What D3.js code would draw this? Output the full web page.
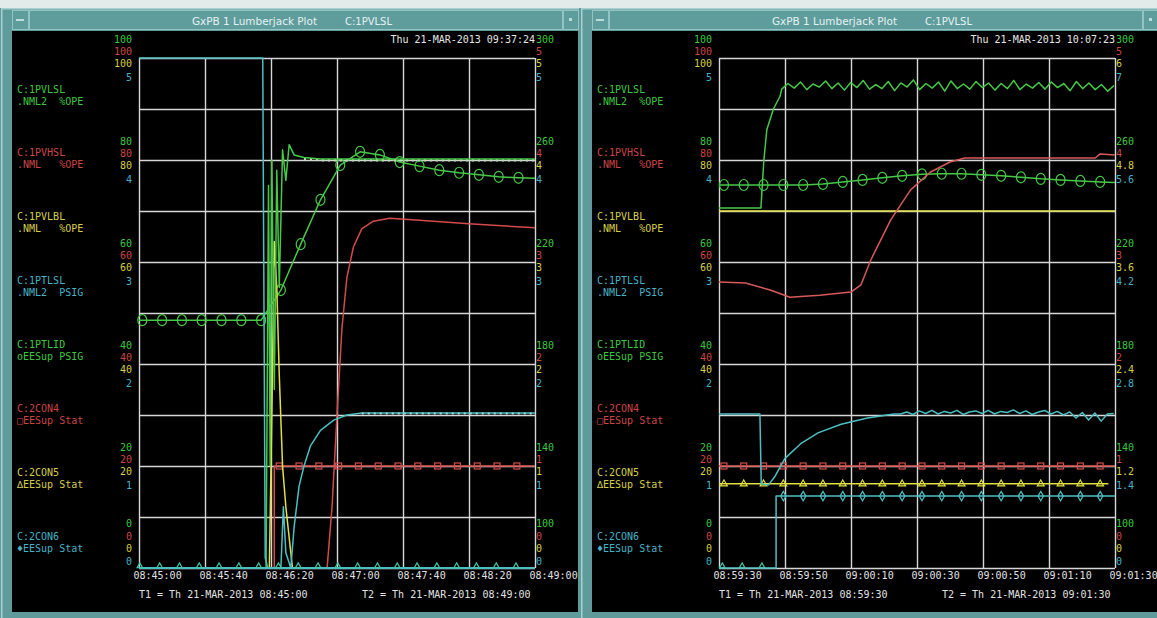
<!DOCTYPE html>
<html>
<head>
<meta charset="utf-8">
<script src="https://cdn.jsdelivr.net/npm/d3@7"></script>
<style>
body { margin: 0; background: #e3eaea; overflow: hidden; }
</style>
</head>
<body>
<svg id="vis" width="1157" height="618"></svg>
<script>
// ---------- data (values in % of span, time in seconds from T1) ----------
var leftTimes = ["08:45:00", "08:45:40", "08:46:20", "08:47:00", "08:47:40", "08:48:20", "08:49:00"];
var rightTimes = ["08:59:30", "08:59:50", "09:00:10", "09:00:30", "09:00:50", "09:01:10", "09:01:30"];

var varNames = ["C:1PVLSL", "C:1PVHSL", "C:1PVLBL", "C:1PTLSL", "C:1PTLID", "C:2CON4", "C:2CON5", "C:2CON6"];
var varUnits = [".NML2  %OPE", ".NML   %OPE", ".NML   %OPE", ".NML2  PSIG", "oEESup PSIG", "\u25a1EESup Stat", "\u2206EESup Stat", "\u2666EESup Stat"];

var ticksPct = ["0", "20", "40", "60", "80", "100"];
var ticksFive = ["0", "1", "2", "3", "4", "5"];
var ticksGreenR = ["100", "140", "180", "220", "260", "300"];
var ticksYellowR2 = ["0", "1.2", "2.4", "3.6", "4.8", "6"];
var ticksCyanR2 = ["0", "1.4", "2.8", "4.2", "5.6", "7"];
var gridPct = [0, 10, 20, 30, 40, 50, 60, 70, 80, 90, 100];

// left plot, 08:45:00 - 08:49:00
var lGreen = [[0,0],[77,0],[78.5,75],[79.5,20],[80.5,80],[82,35],[83.5,78],[85,55],[87,82],[89,76],[91,83],[94,81],[100,80.5],[110,80.2],[240,80.2]];
var lGreenCirc = [[0,48.6],[74,48.6],[86,54.5],[98,63.5],[110,72.2],[122,79],[134,81.6],[146,81],[158,79.6],[170,78.8],[182,78],[194,77.5],[206,77.1],[218,76.7],[230,76.5],[240,76.4]];
var lCircTimes = [2,14,26,38,50,62,74,86,98,110,122,134,146,158,170,182,194,206,218,230];
var lRed = [[0,0],[114,0],[117,12],[120,30],[123,47],[126,57],[130,63],[135,66.5],[142,68],[152,68.6],[170,68.2],[200,67.5],[240,66.7]];
var lRedSq = [[0,0],[82,0],[82,20],[240,20]];
var lSqTimes = [85,97,109,121,133,145,157,169,181,193,205,217,229];
var lYellow = [[0,0],[79,0],[80.5,30],[82,64],[83.5,55],[85,38],[87,20],[89,12],[91,6],[93,0],[240,0]];
var lCyan = [[0,100],[75,100],[76.5,2],[78,0],[86,0],[87.5,12],[89,3],[92,0],[94,8],[97,16],[100,20],[104,24],[110,27],[118,29],[126,30],[135,30.4],[240,30.4]];
var lCyanBase = [[0,0],[240,0]];
var lTriTimes = [0.5,12.5,24.5,36.5,48.5,60.5,72.5,84.5,96.5,108.5,120.5,132.5,144.5,156.5,168.5,180.5,192.5,204.5,216.5,228.5];

// right plot, 08:59:30 - 09:01:30
var rGreenHead = [[0,70.6],[12.7,70.6],[13.6,80],[14.5,86],[16.5,90],[18.5,92.5]];
var rGreenWiggle = [93.9,95.0,94.1,95.3,93.8,94.9,94.3,95.5,94.0,95.1,93.7,95.2,94.2,95.6,93.9,94.8,94.0,95.4,93.6,95.1,94.3,95.7,93.8,95.0,94.1,95.3,93.5,95.5,94.0,94.9,93.9,95.4,94.2,95.1,93.7,95.0,94.0,95.6,93.8,94.9,94.1,95.2,93.9,95.3,94.2,95.0,93.6,95.4,94.0,95.1,93.8,94.8,93.5,94.6];
var rGreenCirc = [[0,75.1],[25.5,75.1],[31.5,75.3],[37.5,75.7],[43.5,76.1],[49.5,76.5],[55.5,76.9],[61.5,77.2],[67.5,77.3],[73.5,77.3],[79.5,77.1],[85.5,76.9],[91.5,76.6],[97.5,76.3],[103.5,76.1],[109.5,75.9],[115.5,75.7],[120,75.6]];
var rMarkTimes = [1.5,7.5,13.5,19.5,25.5,31.5,37.5,43.5,49.5,55.5,61.5,67.5,73.5,79.5,85.5,91.5,97.5,103.5,109.5,115.5];
var rYellow = [[0,70],[120,70]];
var rRed = [[0,56.1],[8,55.9],[15.5,54.5],[21.5,53.1],[30.5,53.5],[40,54.1],[43,55.5],[46,60.4],[52,68.2],[58,74.1],[64,77.6],[70,79.6],[74.5,80.4],[114,80.4],[115.5,81.2],[120,81]];
var rCyanHead = [[0,30.2],[12.4,30.2],[12.8,16.5],[15,16.3],[17,18],[20,21.5],[25,24.5],[30,26.5],[37,28.2],[45,29.4],[53,30.2]];
var rCyanNoise = [30.2,30.6,30.1,30.8,30.3,30.9,30.2,30.7,30.4,30.9,30.1,30.6,30.8,30.3,30.9,30.2,30.7,30.5,31.0,30.3,30.8,30.1,30.6,30.9,30.2,30.7,30.0,30.6,29.4,30.5,29.0,30.4,28.8,30.2,30.3];
var rRedSq = [[0,20],[120,20]];
var rYellowTri = [[0,16.5],[118,16.5]];
var rCyanDia = [[0,0],[17.3,0],[17.3,14.1],[120,14.1]];
var rDiaTimes = [19.5,25.5,31.5,37.5,43.5,49.5,55.5,61.5,67.5,73.5,79.5,85.5,91.5,97.5,103.5,109.5,115.5];
var rBotTriTimes = [1, 7, 13];

// ---------- styles ----------
var MONO = "'DejaVu Sans Mono', 'Liberation Mono', monospace";
var GREEN = "#3fc63f", RED = "#cc4646", YELLOW = "#d6cf46", CYAN = "#46b2c6";
var LGREEN = "#47c947", LRED = "#d24c4c", LYELLOW = "#e2e040", LCYAN = "#4cbfc2";
var labelColors = [GREEN, RED, YELLOW, CYAN, GREEN, RED, YELLOW, CYAN];

var svg = d3.select("#vis");
svg.append("rect").attr("width", 1157).attr("height", 618).attr("fill", "#e3eaea");

function sampled(t0, dt, vals) {
  return vals.map((v, i) => [t0 + i * dt, v]);
}

function valueAt(pts, t) {
  for (var i = 0; i < pts.length - 1; i++) {
    var a = pts[i], b = pts[i + 1];
    if (t >= a[0] && t <= b[0]) {
      if (b[0] === a[0]) return b[1];
      return a[1] + (b[1] - a[1]) * (t - a[0]) / (b[0] - a[0]);
    }
  }
  return pts[pts.length - 1][1];
}

function drawWindow(x0, title2) {
  var g = svg.append("g").attr("transform", "translate(" + x0 + ",0)");
  g.append("rect").attr("x", 0).attr("y", 8).attr("width", 580).attr("height", 610).attr("fill", "#5f9b9b");
  g.append("rect").attr("x", 1).attr("y", 8).attr("width", 578).attr("height", 1.5).attr("fill", "#a9d0d0");
  g.append("rect").attr("x", 1).attr("y", 8).attr("width", 1.5).attr("height", 610).attr("fill", "#a9d0d0");
  // title bar
  g.append("rect").attr("x", 29.5).attr("y", 10.5).attr("width", 533).attr("height", 19)
    .attr("fill", "#5f9c9c").attr("stroke", "#93c4c4").attr("stroke-width", 1);
  g.append("rect").attr("x", 12.5).attr("y", 10.5).attr("width", 16).attr("height", 19)
    .attr("fill", "#5f9c9c").attr("stroke", "#93c4c4").attr("stroke-width", 1);
  g.append("rect").attr("x", 16).attr("y", 19).attr("width", 8).attr("height", 2).attr("fill", "#b9dcdc");
  g.append("rect").attr("x", 563.5).attr("y", 10.5).attr("width", 15).attr("height", 19)
    .attr("fill", "#5f9c9c").attr("stroke", "#93c4c4").attr("stroke-width", 1);
  g.append("rect").attr("x", 569).attr("y", 18).attr("width", 3).attr("height", 3).attr("fill", "#b9dcdc");
  g.append("text").attr("x", 192).attr("y", 25)
    .attr("font-family", "'DejaVu Sans Condensed', 'Liberation Sans Narrow', sans-serif")
    .attr("font-size", 11).attr("fill", "#e4f2f2")
    .attr("textLength", 125).attr("lengthAdjust", "spacingAndGlyphs")
    .text("GxPB 1 Lumberjack Plot");
  g.append("text").attr("x", 345).attr("y", 25)
    .attr("font-family", "'DejaVu Sans Condensed', 'Liberation Sans Narrow', sans-serif")
    .attr("font-size", 11).attr("fill", "#e4f2f2")
    .attr("textLength", 47).attr("lengthAdjust", "spacingAndGlyphs")
    .text(title2);
  // black plot window
  g.append("rect").attr("x", 12).attr("y", 31).attr("width", 566).attr("height", 581).attr("fill", "#000");
  return g;
}

function stackAxis(g, side, labels, color, off, offBottom) {
  var yt = d3.scaleLinear().domain([0, labels.length - 1]).range([568, 58]);
  var ax = (side === "left" ? d3.axisLeft(yt) : d3.axisRight(yt))
    .tickValues(d3.range(labels.length)).tickSize(0).tickPadding(0)
    .tickFormat(i => labels[i]);
  var a = g.append("g")
    .attr("transform", "translate(" + (side === "left" ? 132 : 536) + ",0)")
    .call(ax)
    .attr("font-family", MONO).attr("font-size", 10);
  a.select(".domain").remove();
  a.selectAll("text").attr("fill", color).attr("dy", null)
    .attr("y", i => (i === 0 ? offBottom : off) + 3.5);
}

function drawPanel(x0, cfg) {
  var g = drawWindow(x0, "C:1PVLSL");
  var x = d3.scaleLinear().domain([0, cfg.span]).range([139, 535]);
  var y = d3.scaleLinear().domain([0, 100]).range([568, 58]);
  var tickSecs = cfg.times.map((s, i) => i * cfg.span / (cfg.times.length - 1));

  // grid
  var gx = g.append("g").attr("transform", "translate(0,568)")
    .call(d3.axisBottom(x).tickValues(tickSecs).tickSize(-510).tickFormat(""));
  gx.select(".domain").remove();
  gx.selectAll("line").attr("stroke", "#d6d6d6").attr("stroke-width", 1.4);
  var gy = g.append("g").attr("transform", "translate(139,0)")
    .call(d3.axisLeft(y).tickValues(gridPct).tickSize(-396).tickFormat(""));
  gy.select(".domain").remove();
  gy.selectAll("line").attr("stroke", "#d6d6d6").attr("stroke-width", 1.4);

  // scale labels, stacked per colour
  stackAxis(g, "left", ticksPct, GREEN, -19, -45);
  stackAxis(g, "left", ticksPct, RED, -7, -32);
  stackAxis(g, "left", ticksPct, YELLOW, 4.5, -20);
  stackAxis(g, "left", ticksFive, CYAN, 18.5, -7);
  stackAxis(g, "right", ticksGreenR, GREEN, -19, -45);
  stackAxis(g, "right", ticksFive, RED, -7, -32);
  stackAxis(g, "right", cfg.yellowR, YELLOW, 4.5, -20);
  stackAxis(g, "right", cfg.cyanR, CYAN, 18.5, -7);

  // time axis
  var ta = g.append("g").attr("transform", "translate(0,568)")
    .call(d3.axisBottom(x).tickValues(tickSecs).tickSize(0).tickPadding(0)
      .tickFormat((d, i) => cfg.times[i]))
    .attr("font-family", MONO).attr("font-size", 10);
  ta.select(".domain").remove();
  ta.selectAll("text").attr("text-anchor", "start").attr("x", -6)
    .attr("dy", null).attr("y", 11).attr("fill", "#e2e2e2");

  var mono = (t, px, py, fill, anchor) => g.append("text").attr("x", px).attr("y", py)
    .attr("font-family", MONO).attr("font-size", 10).attr("fill", fill)
    .attr("text-anchor", anchor || "start").style("white-space", "pre").text(t);
  mono(cfg.stamp, 535, 42.5, "#e6e6e6", "end");
  mono(cfg.t1, 139, 598, "#e2e2e2");
  mono(cfg.t2, 362, 598, "#e2e2e2");

  varNames.forEach((n, i) => {
    mono(n, 17, 92.5 + i * 63.9, labelColors[i]);
    mono(varUnits[i], 17, 104.5 + i * 63.9, labelColors[i]);
  });

  // traces
  var line = d3.line().x(d => x(d[0])).y(d => y(d[1]));
  var trace = (pts, color, w) => g.append("path").datum(pts).attr("d", line)
    .attr("fill", "none").attr("stroke", color).attr("stroke-width", w || 1.5)
    .attr("stroke-linejoin", "round");
  // dotted sample texture on the settled part of a trace
  var texture = (pts, fromT, color, dy) => g.append("path")
    .datum(pts.filter(d => d[0] >= fromT)).attr("d", line)
    .attr("transform", "translate(0," + dy + ")")
    .attr("fill", "none").attr("stroke", color).attr("stroke-width", 2)
    .attr("stroke-dasharray", "2,4");
  var marks = (pts, times, color, kind) => {
    times.forEach(t => {
      var px = x(t), py = y(valueAt(pts, t));
      var m;
      if (kind === "circle") {
        m = g.append("ellipse").attr("cx", px).attr("cy", py).attr("rx", 4.5).attr("ry", 5.5);
      } else if (kind === "square") {
        m = g.append("rect").attr("x", px - 3).attr("y", py - 3).attr("width", 6).attr("height", 6);
      } else {
        var sym = kind === "diamond" ? d3.symbolDiamond : d3.symbolTriangle;
        m = g.append("path").attr("d", d3.symbol(sym, kind === "diamond" ? 26 : (kind === "tri" ? 20 : 13))())
          .attr("transform", "translate(" + px + "," + (py - (kind === "smalltri" ? 2 : 0)) + ")");
      }
      m.attr("fill", "none").attr("stroke", color).attr("stroke-width", 1.2);
    });
  };
  cfg.draw(trace, marks, texture);
}

drawPanel(0, {
  span: 240, times: leftTimes, yellowR: ticksFive, cyanR: ticksFive,
  stamp: "Thu 21-MAR-2013 09:37:24",
  t1: "T1 = Th 21-MAR-2013 08:45:00", t2: "T2 = Th 21-MAR-2013 08:49:00",
  draw: function(trace, marks, texture) {
    trace(lGreenCirc, LGREEN);
    marks(lGreenCirc, lCircTimes, LGREEN, "circle");
    trace(lRed, LRED);
    trace(lRedSq, LRED);
    marks(lRedSq, lSqTimes, LRED, "square");
    trace(lYellow, LYELLOW);
    trace(lGreen, LGREEN);
    texture(lGreen, 100, "#b9dcb0", 1.5);
    trace(lCyan, LCYAN);
    texture(lCyan, 130, "#9fd8d8", 0.5);
    trace(lCyanBase, LCYAN, 2);
    marks(lCyanBase, lTriTimes, "#44c4a8", "smalltri");
  }
});

drawPanel(580, {
  span: 120, times: rightTimes, yellowR: ticksYellowR2, cyanR: ticksCyanR2,
  stamp: "Thu 21-MAR-2013 10:07:23",
  t1: "T1 = Th 21-MAR-2013 08:59:30", t2: "T2 = Th 21-MAR-2013 09:01:30",
  draw: function(trace, marks) {
    trace(rYellow, LYELLOW);
    trace(rGreenCirc, LGREEN);
    marks(rGreenCirc, rMarkTimes, LGREEN, "circle");
    trace(rRed, "#d65a5a");
    trace(rRedSq, LRED);
    marks(rRedSq, rMarkTimes, LRED, "square");
    trace(rYellowTri, LYELLOW);
    marks(rYellowTri, rMarkTimes, LYELLOW, "tri");
    trace(rGreenHead.concat(sampled(19, 1.9, rGreenWiggle)), LGREEN);
    trace(rCyanHead.concat(sampled(55, 1.9, rCyanNoise)), LCYAN);
    trace(rCyanDia, LCYAN);
    marks(rCyanDia, rDiaTimes, LCYAN, "diamond");
    marks(rCyanDia, rBotTriTimes, "#44c4a8", "smalltri");
  }
});
</script>
</body>
</html>
